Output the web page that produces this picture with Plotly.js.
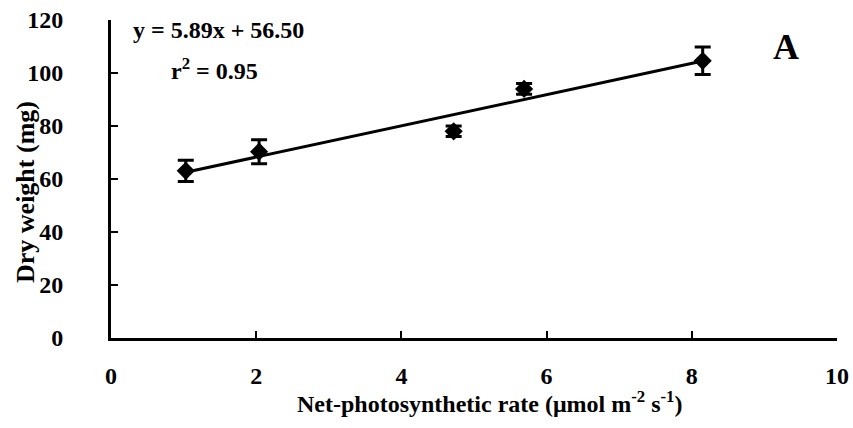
<!DOCTYPE html>
<html>
<head>
<meta charset="utf-8">
<script src="https://cdn.plot.ly/plotly-3.0.1.min.js"></script>
<style>html,body{margin:0;padding:0;background:#fff}#chart{width:853px;height:428px}</style>
</head>
<body>
<div id="chart"></div>
<script>
// Data
const netPhotosynthesis = [1.03, 2.04, 4.72, 5.69, 8.15];
const dryWeight = [63.1, 70.3, 78.0, 94.0, 104.6];
const dryWeightError = [4.0, 4.5, 2.0, 2.0, 5.2];
const slope = 5.89;
const intercept = 56.50;
const xTickVals = [0, 2, 4, 6, 8, 10];
const yTickVals = [0, 20, 40, 60, 80, 100, 120];
const xTitle = 'Net-photosynthetic rate (μmol m<sup>-2</sup> s<sup>-1</sup>)';
const yTitle = 'Dry weight (mg)';

const fitX = [netPhotosynthesis[0], netPhotosynthesis[netPhotosynthesis.length - 1]];
const fitY = fitX.map(v => slope * v + intercept);

const FONT = 'Liberation Serif, Times New Roman, serif';
const bold = (size) => ({family: FONT, size: size, color: '#000', weight: 'bold'});

const traces = [
  {
    x: fitX, y: fitY, type: 'scatter', mode: 'lines',
    line: {color: '#000', width: 3}, hoverinfo: 'skip', showlegend: false
  },
  {
    x: netPhotosynthesis, y: dryWeight, type: 'scatter', mode: 'markers',
    marker: {symbol: 'diamond', size: 14, color: '#000'},
    error_y: {type: 'data', array: dryWeightError, visible: true, color: '#000', thickness: 3, width: 8},
    showlegend: false
  }
];

const layout = {
  width: 853, height: 428,
  margin: {l: 111, r: 16, t: 20, b: 90},
  paper_bgcolor: '#fff', plot_bgcolor: '#fff',
  font: bold(24),
  xaxis: {
    range: [0, 10], tickvals: xTickVals, ticktext: xTickVals.map(String),
    showgrid: false, zeroline: false, showline: true, linewidth: 3, linecolor: '#000',
    ticks: 'inside', ticklen: 7, tickwidth: 2, tickcolor: '#000',
    ticklabelstandoff: 14,
    tickfont: bold(24)
  },
  yaxis: {
    range: [0, 120], tickvals: yTickVals, ticktext: yTickVals.map(String),
    showgrid: false, zeroline: false, showline: true, linewidth: 3, linecolor: '#000',
    ticks: 'inside', ticklen: 7, tickwidth: 2, tickcolor: '#000',
    ticklabelstandoff: 40,
    tickfont: bold(24)
  },
  annotations: [
    {xref: 'paper', yref: 'paper', x: 0.522, y: -0.201, xanchor: 'center', yanchor: 'middle',
     text: xTitle, showarrow: false, font: bold(24)},
    {xref: 'paper', yref: 'paper', x: -0.1185, y: 0.459, xanchor: 'center', yanchor: 'middle',
     text: yTitle, textangle: -90, showarrow: false, font: bold(26)},
    {xref: 'paper', yref: 'paper', x: 0.027, y: 0.969, xanchor: 'left', yanchor: 'middle',
     text: 'y = ' + slope.toFixed(2) + 'x + ' + intercept.toFixed(2), showarrow: false,
     font: bold(24)},
    {xref: 'paper', yref: 'paper', x: 0.143, y: 0.845, xanchor: 'center', yanchor: 'middle',
     text: 'r<sup>2</sup> = 0.95', showarrow: false, font: bold(24)},
    {xref: 'paper', yref: 'paper', x: 0.93, y: 0.915, xanchor: 'center', yanchor: 'middle',
     text: 'A', showarrow: false, font: bold(36)}
  ]
};

Plotly.newPlot('chart', traces, layout, {staticPlot: true, displayModeBar: false});
</script>
</body>
</html>
